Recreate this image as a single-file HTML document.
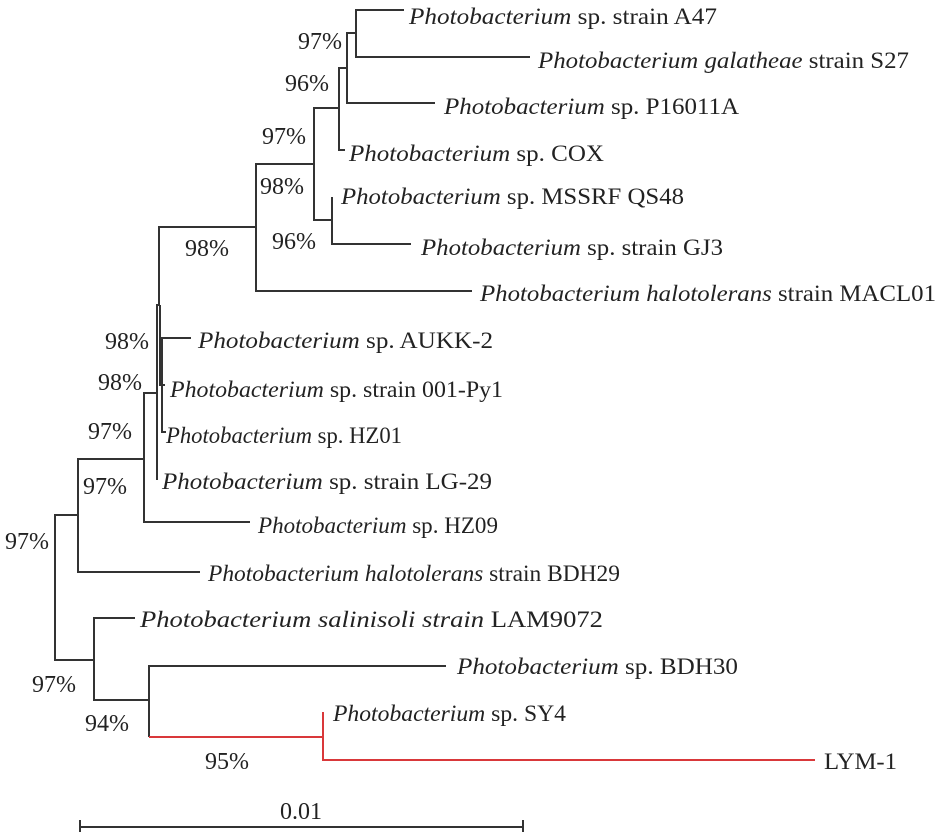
<!DOCTYPE html>
<html><head><meta charset="utf-8"><style>
html,body{margin:0;padding:0;background:#fff;}
svg{display:block;}
text{font-family:"Liberation Serif",serif;font-size:23px;fill:#222;}
.b{font-size:24px;}
</style></head><body>
<svg width="945" height="832" viewBox="0 0 945 832" xmlns="http://www.w3.org/2000/svg">
<g stroke="#333" stroke-width="2" fill="none">
<path d="M404 10H356V57H530"/>
<path d="M356 33H347V103H435"/>
<path d="M347 68H339V150H345"/>
<path d="M339 108H314V220H332"/>
<path d="M332 197V244H411"/>
<path d="M314 164H256V291H472"/>
<path d="M256 227H159V305"/>
<path d="M159 305H157V480"/>
<path d="M160 305V385H165"/>
<path d="M191 338H162V432H166"/>
<path d="M157 393H144V522H250"/>
<path d="M144 459H78V572H200"/>
<path d="M78 515H55V660H94"/>
<path d="M135 618H94V700H149V666H446"/>
<path d="M149 700V737"/>
<path d="M80 827H523M80 820V834M523 820V834"/>
</g>
<g stroke="#d9383a" stroke-width="2" fill="none">
<path d="M149 737H323V712M323 737V760H815"/>
</g>
<text x="409" y="24" textLength="308" lengthAdjust="spacingAndGlyphs"><tspan font-style="italic">Photobacterium</tspan> sp. strain A47</text>
<text x="538" y="68" textLength="371" lengthAdjust="spacingAndGlyphs"><tspan font-style="italic">Photobacterium galatheae</tspan> strain S27</text>
<text x="444" y="114" textLength="295" lengthAdjust="spacingAndGlyphs"><tspan font-style="italic">Photobacterium</tspan> sp. P16011A</text>
<text x="349" y="161" textLength="255" lengthAdjust="spacingAndGlyphs"><tspan font-style="italic">Photobacterium</tspan> sp. COX</text>
<text x="341" y="204" textLength="343" lengthAdjust="spacingAndGlyphs"><tspan font-style="italic">Photobacterium</tspan> sp. MSSRF QS48</text>
<text x="421" y="255" textLength="302" lengthAdjust="spacingAndGlyphs"><tspan font-style="italic">Photobacterium</tspan> sp. strain GJ3</text>
<text x="480" y="301" textLength="456" lengthAdjust="spacingAndGlyphs"><tspan font-style="italic">Photobacterium halotolerans</tspan> strain MACL01</text>
<text x="198" y="348" textLength="295" lengthAdjust="spacingAndGlyphs"><tspan font-style="italic">Photobacterium</tspan> sp. AUKK-2</text>
<text x="170" y="397" textLength="333" lengthAdjust="spacingAndGlyphs"><tspan font-style="italic">Photobacterium</tspan> sp. strain 001-Py1</text>
<text x="166" y="443" textLength="236" lengthAdjust="spacingAndGlyphs"><tspan font-style="italic">Photobacterium</tspan> sp. HZ01</text>
<text x="162" y="489" textLength="330" lengthAdjust="spacingAndGlyphs"><tspan font-style="italic">Photobacterium</tspan> sp. strain LG-29</text>
<text x="258" y="533" textLength="240" lengthAdjust="spacingAndGlyphs"><tspan font-style="italic">Photobacterium</tspan> sp. HZ09</text>
<text x="208" y="581" textLength="412" lengthAdjust="spacingAndGlyphs"><tspan font-style="italic">Photobacterium halotolerans</tspan> strain BDH29</text>
<text x="140" y="627" textLength="463" lengthAdjust="spacingAndGlyphs"><tspan font-style="italic">Photobacterium salinisoli strain</tspan> LAM9072</text>
<text x="457" y="674" textLength="281" lengthAdjust="spacingAndGlyphs"><tspan font-style="italic">Photobacterium</tspan> sp. BDH30</text>
<text x="333" y="721" textLength="233" lengthAdjust="spacingAndGlyphs"><tspan font-style="italic">Photobacterium</tspan> sp. SY4</text>
<text x="824" y="769" textLength="73" lengthAdjust="spacingAndGlyphs">LYM-1</text>
<text class="b" x="298" y="49">97%</text>
<text class="b" x="285" y="91">96%</text>
<text class="b" x="262" y="144">97%</text>
<text class="b" x="260" y="194">98%</text>
<text class="b" x="272" y="249">96%</text>
<text class="b" x="185" y="256">98%</text>
<text class="b" x="105" y="349">98%</text>
<text class="b" x="98" y="390">98%</text>
<text class="b" x="88" y="439">97%</text>
<text class="b" x="83" y="494">97%</text>
<text class="b" x="5" y="549">97%</text>
<text class="b" x="32" y="692">97%</text>
<text class="b" x="85" y="731">94%</text>
<text class="b" x="205" y="769">95%</text>
<text class="b" x="280" y="819">0.01</text>
</svg>
</body></html>
